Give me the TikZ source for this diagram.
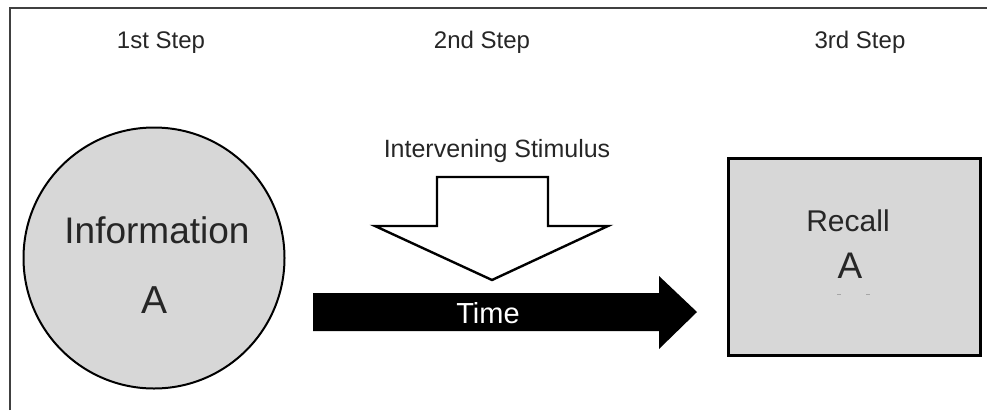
\documentclass[tikz,border=0pt]{standalone}
\usepackage{fontspec}
\setmainfont{Liberation Sans}
\definecolor{boxgray}{RGB}{215,215,215}
\definecolor{framegray}{RGB}{64,64,64}
\begin{document}
\begin{tikzpicture}[x=1pt,y=-1pt,
  steplabel/.style={anchor=base,inner sep=0pt,font=\fontsize{24}{28}\selectfont,text=black!85},
  shapetext/.style={anchor=base,inner sep=0pt,text=black!85},
  bigarrow/.style={line width=2.4pt,line join=miter}]
\useasboundingbox (0,0) rectangle (987,410);
\fill[white] (0,0) rectangle (987,410);
% frame
\draw[framegray,line width=2pt] (10,410) -- (10,8) -- (987,8);
% step labels
\node[steplabel] (s1) at (161,48) {1st Step};
\node[steplabel] (s2) at (482,48) {2nd Step};
\node[steplabel] (s3) at (860,48) {3rd Step};
% circle
\node[circle,draw=black,line width=2pt,fill=boxgray,minimum size=261pt,inner sep=0pt] (info) at (154,258) {};
\node[shapetext,font=\fontsize{37}{40}\selectfont] (infotxt) at (157,243) {Information};
\node[shapetext,font=\fontsize{39}{42}\selectfont] (infoA) at (155,313) {A};
% rectangle
\node[rectangle,draw=black,line width=3pt,fill=boxgray,minimum width=252pt,minimum height=197pt,inner sep=0pt] (recall) at (854,256.5) {};
\node[shapetext,font=\fontsize{30}{34}\selectfont] (recalltxt) at (848,231) {Recall};
\node[shapetext,font=\fontsize{37}{40}\selectfont] (recallA) at (850,278) {A};
\draw[black!35,line width=1pt] (837,294) -- (841,294) (866,294) -- (870,294);
% intervening stimulus
\node[shapetext,font=\fontsize{25}{28}\selectfont] (stim) at (497,157) {Intervening Stimulus};
\draw[bigarrow,fill=white] (437,177) -- (548,177) -- (548,226) -- (608,226) -- (492,280) -- (375,226) -- (437,226) -- cycle;
% time arrow
\fill[black] (313,293) -- (659,293) -- (659,276) -- (697,312) -- (659,349) -- (659,331) -- (313,331) -- cycle;
\node[anchor=base,inner sep=0pt,text=white,font=\fontsize{29}{32}\selectfont] (time) at (488,323) {Time};
\end{tikzpicture}
\end{document}
